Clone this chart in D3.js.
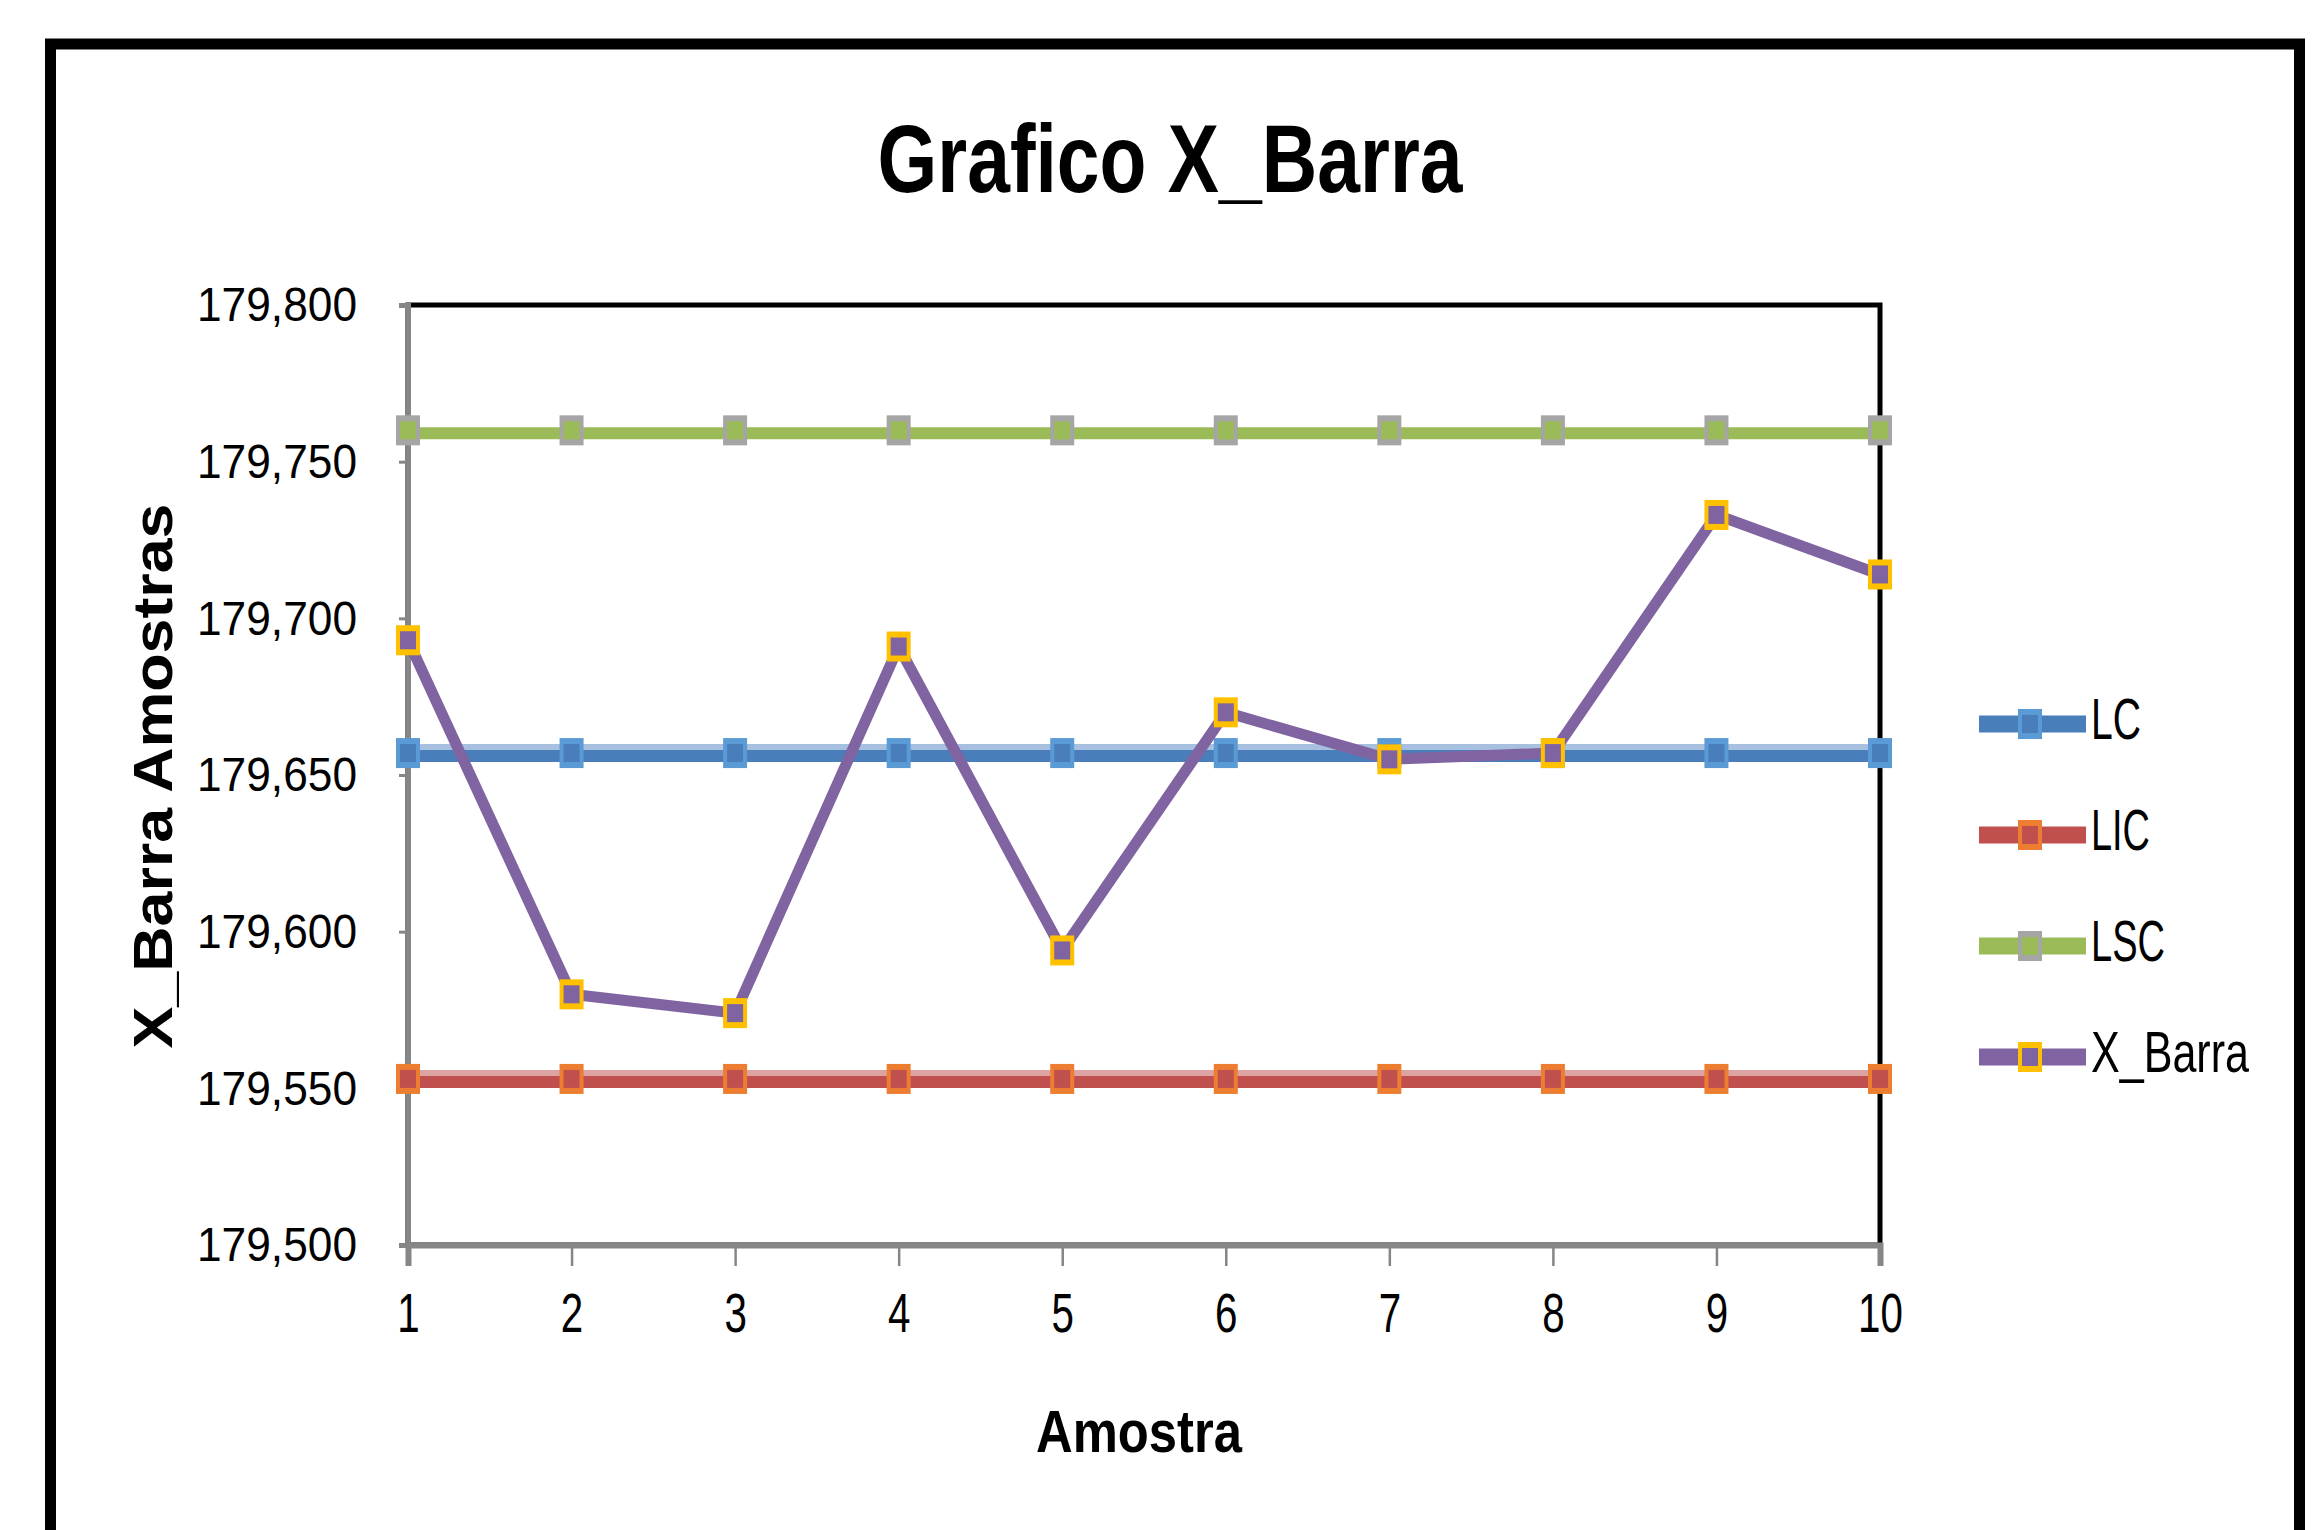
<!DOCTYPE html>
<html><head><meta charset="utf-8">
<script src="https://cdn.jsdelivr.net/npm/d3@7"></script>
<style>body{margin:0;background:#fff;} svg{display:block;}</style>
</head><body>
<script>
// ---- data ----
const samples = [1, 2, 3, 4, 5, 6, 7, 8, 9, 10];
const lcValues = [179.657, 179.657, 179.657, 179.657, 179.657, 179.657, 179.657, 179.657, 179.657, 179.657];
const licValues = [179.553, 179.553, 179.553, 179.553, 179.553, 179.553, 179.553, 179.553, 179.553, 179.553];
const lscValues = [179.760, 179.760, 179.760, 179.760, 179.760, 179.760, 179.760, 179.760, 179.760, 179.760];
const xBarraValues = [179.693, 179.580, 179.574, 179.691, 179.594, 179.670, 179.655, 179.657, 179.733, 179.714];
const yTicks = [179.5, 179.55, 179.6, 179.65, 179.7, 179.75, 179.8];
const seriesNames = ["LC", "LIC", "LSC", "X_Barra"];
const titleText = "Grafico X_Barra";
const xTitle = "Amostra";
const yTitle = "X_Barra Amostras";

const series = [
  {name: "LC", values: lcValues, line: "#4a7ebb", band: "#a7c0df", mFill: "#4a7ebb", mStroke: "#5b9bd5", w: 12, offset: 3},
  {name: "LIC", values: licValues, line: "#c0504d", band: "#dca3a2", mFill: "#c0504d", mStroke: "#ed7d31", w: 12, offset: 3},
  {name: "LSC", values: lscValues, line: "#9bbb59", band: null, mFill: "#9bbb59", mStroke: "#a5a5a5", w: 12, offset: 3},
  {name: "X_Barra", values: xBarraValues, line: "#8064a2", band: null, mFill: "#8064a2", mStroke: "#ffc000", w: 11, offset: 0}
];

const W = 2321, H = 1530;
const svg = d3.select("body").append("svg").attr("width", W).attr("height", H);
const font = "'Liberation Sans', Arial, sans-serif";

// outer chart border
svg.append("rect").attr("x", 50.5).attr("y", 44).attr("width", 2249).attr("height", 1700)
  .attr("fill", "#fff").attr("stroke", "#000").attr("stroke-width", 11);

const x = d3.scaleLinear().domain([1, 10]).range([408, 1880]);
const y = d3.scaleLinear().domain([179.5, 179.8]).range([1245, 305]);

// plot border
svg.append("rect").attr("x", x(1)).attr("y", y(179.8)).attr("width", x(10) - x(1)).attr("height", y(179.5) - y(179.8))
  .attr("fill", "none").attr("stroke", "#000").attr("stroke-width", 5);

// title
svg.append("text").attr("x", 1170).attr("y", 192).attr("text-anchor", "middle")
  .attr("font-family", font).attr("font-weight", "bold").attr("font-size", 96)
  .attr("textLength", 585).attr("lengthAdjust", "spacingAndGlyphs").text(titleText);

// axes
const ptFmt = d3.formatLocale({decimal: ",", thousands: ".", grouping: [3], currency: ["R$", ""]}).format(".3f");
const yAxis = svg.append("g").attr("transform", `translate(${x(1)},0)`)
  .call(d3.axisLeft(y).tickValues(yTicks).tickFormat(ptFmt).tickSize(9).tickPadding(42));
yAxis.select(".domain").attr("stroke", "#868686").attr("stroke-width", 5);
yAxis.selectAll(".tick line").attr("stroke", "#868686").attr("stroke-width", 3);
yAxis.selectAll(".tick text").attr("font-family", font).attr("font-size", 49).attr("fill", "#000")
  .attr("textLength", 160).attr("lengthAdjust", "spacingAndGlyphs");

const xAxis = svg.append("g").attr("transform", `translate(0,${y(179.5)})`)
  .call(d3.axisBottom(x).tickValues(samples).tickFormat(d3.format("d")).tickSize(21).tickPadding(26));
xAxis.select(".domain").attr("stroke", "#868686").attr("stroke-width", 6);
xAxis.selectAll(".tick line").attr("stroke", "#868686").attr("stroke-width", 2.5);
xAxis.selectAll(".tick text").attr("font-family", font).attr("font-size", 56).attr("fill", "#000")
  .attr("dy", "0.71em").attr("transform", "scale(0.72,1)");

// axis titles
svg.append("text").attr("x", 1139).attr("y", 1452).attr("text-anchor", "middle")
  .attr("font-family", font).attr("font-weight", "bold").attr("font-size", 59)
  .attr("textLength", 206).attr("lengthAdjust", "spacingAndGlyphs").text(xTitle);
svg.append("text").attr("transform", "translate(172,776) rotate(-90)").attr("text-anchor", "middle")
  .attr("font-family", font).attr("font-weight", "bold").attr("font-size", 55)
  .attr("textLength", 545).attr("lengthAdjust", "spacingAndGlyphs").text(yTitle);

// series
const lineGen = d3.line().x((d, i) => x(samples[i])).y(d => y(d));
function marker(g, cx, cy, s) {
  g.append("rect").attr("x", cx - 12).attr("y", cy - 15).attr("width", 24).attr("height", 30).attr("fill", s.mStroke);
  g.append("rect").attr("x", cx - 8).attr("y", cy - 9).attr("width", 16).attr("height", 18).attr("fill", s.mFill);
}
series.forEach(s => {
  const g = svg.append("g");
  if (s.band) {
    g.append("path").attr("d", lineGen(s.values)).attr("fill", "none")
      .attr("stroke", s.band).attr("stroke-width", 18);
  }
  g.append("path").attr("d", lineGen(s.values)).attr("transform", `translate(0,${s.offset})`)
    .attr("fill", "none").attr("stroke", s.line).attr("stroke-width", s.w).attr("stroke-linejoin", "round");
  s.values.forEach((v, i) => marker(g, x(samples[i]), y(v), s));
});

// legend
const legendY = d3.scalePoint().domain(seriesNames).range([724, 1057]);
const legendW = {"LC": 50, "LIC": 59, "LSC": 74, "X_Barra": 158};
series.forEach(s => {
  const g = svg.append("g");
  const ly = legendY(s.name);
  g.append("line").attr("x1", 1979).attr("x2", 2086).attr("y1", ly).attr("y2", ly)
    .attr("stroke", s.line).attr("stroke-width", 17);
  marker(g, 2030, ly, s);
  g.append("text").attr("x", 2091).attr("y", ly + 15).attr("font-family", font).attr("font-size", 57)
    .attr("textLength", legendW[s.name]).attr("lengthAdjust", "spacingAndGlyphs").text(s.name);
});
</script>
</body></html>
